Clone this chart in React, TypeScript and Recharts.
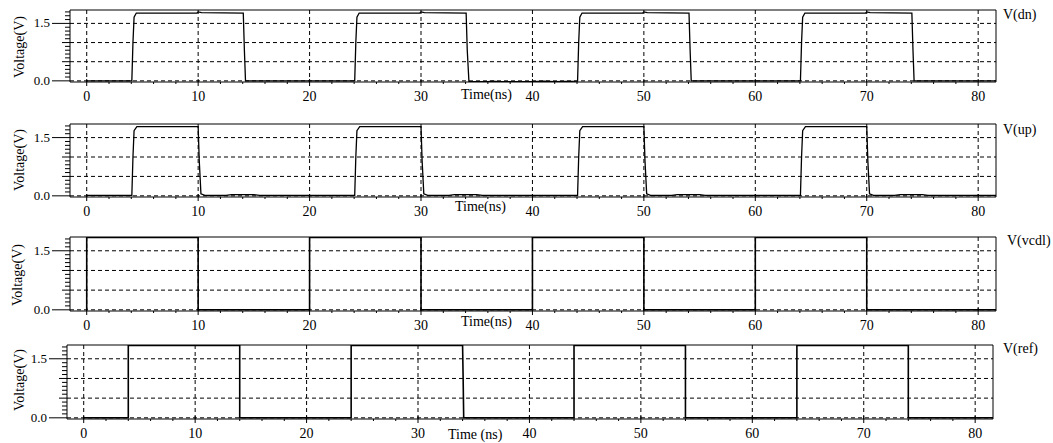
import React from "react"
import { LineChart, Line, XAxis, YAxis, CartesianGrid, ReferenceArea } from "recharts"

type Pt = { t: number; v: number }

const serif = '"Liberation Serif", "Times New Roman", Times, serif'

const timeTicks = [0, 10, 20, 30, 40, 50, 60, 70, 80]
const timeMinorTicks = [
  0, 2, 4, 6, 8, 10, 12, 14, 16, 18, 20, 22, 24, 26, 28, 30, 32, 34, 36, 38, 40,
  42, 44, 46, 48, 50, 52, 54, 56, 58, 60, 62, 64, 66, 68, 70, 72, 74, 76, 78, 80,
]
const voltTicks = [0, 0.1, 0.2, 0.3, 0.4, 0.5, 0.6, 0.7, 0.8, 0.9, 1.0, 1.1, 1.2, 1.3, 1.4, 1.5, 1.6, 1.7, 1.8]
const voltLabels = [0, 1.5]
const gridVolts = [0, 0.5, 1.0, 1.5]
const timeDomain: [number, number] = [-1.5, 81.6]
const voltDomain: [number, number] = [-0.03, 1.85]

// V(dn): 10 ns pulses starting at ~4.1 ns, every 20 ns
const dnWave: Pt[] = [
  { t: 0, v: 0 }, { t: 4.05, v: 0 }, { t: 4.15, v: 1.0 }, { t: 4.25, v: 1.66 }, { t: 4.45, v: 1.77 },
  { t: 9.9, v: 1.77 }, { t: 10.0, v: 1.8 }, { t: 10.3, v: 1.78 }, { t: 14.05, v: 1.77 }, { t: 14.15, v: 0.8 },
  { t: 14.25, v: 0 }, { t: 24.05, v: 0 }, { t: 24.15, v: 1.0 }, { t: 24.25, v: 1.66 }, { t: 24.45, v: 1.77 },
  { t: 29.9, v: 1.77 }, { t: 30.0, v: 1.8 }, { t: 30.3, v: 1.78 }, { t: 34.05, v: 1.77 }, { t: 34.15, v: 0.8 },
  { t: 34.3, v: -0.02 }, { t: 36.0, v: -0.02 }, { t: 36.4, v: -0.01 }, { t: 37.0, v: -0.02 }, { t: 40.0, v: -0.02 },
  { t: 41.0, v: -0.01 }, { t: 42.0, v: -0.02 }, { t: 44.05, v: -0.01 }, { t: 44.15, v: 1.0 }, { t: 44.25, v: 1.66 },
  { t: 44.45, v: 1.77 }, { t: 49.9, v: 1.77 }, { t: 50.0, v: 1.8 }, { t: 50.3, v: 1.78 }, { t: 54.05, v: 1.77 },
  { t: 54.15, v: 0.8 }, { t: 54.25, v: 0 }, { t: 64.05, v: 0 }, { t: 64.15, v: 1.0 }, { t: 64.25, v: 1.66 },
  { t: 64.45, v: 1.77 }, { t: 69.9, v: 1.77 }, { t: 70.0, v: 1.8 }, { t: 70.3, v: 1.78 }, { t: 74.05, v: 1.77 },
  { t: 74.15, v: 0.8 }, { t: 74.25, v: 0 }, { t: 81.6, v: 0 },
]

// V(up): pulses from ~4.2 ns to 10 ns, every 20 ns
const upWave: Pt[] = [
  { t: 0, v: 0.01 }, { t: 4.05, v: 0.01 }, { t: 4.15, v: 1.0 }, { t: 4.25, v: 1.68 }, { t: 4.5, v: 1.78 },
  { t: 10.0, v: 1.78 }, { t: 10.1, v: 0.9 }, { t: 10.25, v: 0.05 }, { t: 10.6, v: 0.01 }, { t: 12.5, v: 0.01 },
  { t: 13.0, v: 0.03 }, { t: 15.0, v: 0.03 }, { t: 15.5, v: 0.01 }, { t: 24.05, v: 0.01 }, { t: 24.15, v: 1.0 },
  { t: 24.25, v: 1.68 }, { t: 24.5, v: 1.78 }, { t: 30.0, v: 1.78 }, { t: 30.1, v: 0.9 }, { t: 30.25, v: 0.05 },
  { t: 30.6, v: 0.01 }, { t: 32.5, v: 0.01 }, { t: 33.0, v: 0.03 }, { t: 35.0, v: 0.03 }, { t: 35.5, v: 0.01 },
  { t: 44.05, v: 0.01 }, { t: 44.15, v: 1.0 }, { t: 44.25, v: 1.68 }, { t: 44.5, v: 1.78 }, { t: 50.0, v: 1.78 },
  { t: 50.1, v: 0.9 }, { t: 50.25, v: 0.05 }, { t: 50.6, v: 0.01 }, { t: 52.5, v: 0.01 }, { t: 53.0, v: 0.03 },
  { t: 55.0, v: 0.03 }, { t: 55.5, v: 0.01 }, { t: 64.05, v: 0.01 }, { t: 64.15, v: 1.0 }, { t: 64.25, v: 1.68 },
  { t: 64.5, v: 1.78 }, { t: 70.0, v: 1.78 }, { t: 70.1, v: 0.9 }, { t: 70.25, v: 0.05 }, { t: 70.6, v: 0.01 },
  { t: 72.5, v: 0.01 }, { t: 73.0, v: 0.03 }, { t: 75.0, v: 0.03 }, { t: 75.5, v: 0.01 }, { t: 81.6, v: 0.01 },
]

// V(vcdl): 20 ns clock, high for the first 10 ns of each period
const vcdlWave: Pt[] = [
  { t: 0, v: 0 }, { t: 0, v: 1.84 }, { t: 10, v: 1.84 }, { t: 10, v: 0 }, { t: 20, v: 0 }, { t: 20, v: 1.84 },
  { t: 30, v: 1.84 }, { t: 30, v: 0 }, { t: 40, v: 0 }, { t: 40, v: 1.84 }, { t: 50, v: 1.84 }, { t: 50, v: 0 },
  { t: 60, v: 0 }, { t: 60, v: 1.84 }, { t: 70, v: 1.84 }, { t: 70, v: 0 }, { t: 81.6, v: 0 },
]

// V(ref): 20 ns clock, high from 4 ns to 14 ns of each period
const refWave: Pt[] = [
  { t: 0, v: 0 }, { t: 4, v: 0 }, { t: 4, v: 1.84 }, { t: 14, v: 1.84 }, { t: 14, v: 0 }, { t: 24, v: 0 },
  { t: 24, v: 1.84 }, { t: 34, v: 1.84 }, { t: 34.05, v: 1.0 }, { t: 34.1, v: 0 }, { t: 44, v: 0 },
  { t: 44, v: 1.84 }, { t: 54, v: 1.84 }, { t: 54, v: 0 }, { t: 64, v: 0 }, { t: 64, v: 1.84 }, { t: 74, v: 1.84 },
  { t: 74, v: 0 }, { t: 81.6, v: 0 },
]

// ruler-style y ticks: long with label at 0.0 / 1.5, medium at 0.5 / 1.0, short otherwise
function VoltTick(props: any) {
  const { x, y, payload } = props
  const v = Math.round(payload.value * 10) / 10
  const labeled = voltLabels.includes(v)
  const mid = v === 0.5 || v === 1.0
  const len = labeled ? 18 : mid ? 8 : 5
  return (
    <g>
      <line x1={x - len} x2={x} y1={y} y2={y} stroke="#000" strokeWidth={1} />
      {labeled && (
        <text x={x - 20} y={y} dy={4} textAnchor="end" fontSize={13} style={{ fontFamily: serif }} fill="#000">
          {v.toFixed(1)}
        </text>
      )}
    </g>
  )
}

// time ticks: every 2 ns short marks under the frame, labelled crossing marks every 10 ns
function TimeTick(props: any) {
  const { x, y, payload } = props
  const t = payload.value
  const major = timeTicks.includes(t)
  return (
    <g>
      {major ? (
        <line x1={x} x2={x} y1={y - 3} y2={y + 4} stroke="#000" strokeWidth={1} />
      ) : (
        <line x1={x} x2={x} y1={y} y2={y + 2} stroke="#000" strokeWidth={1} />
      )}
      {major && (
        <text x={x} y={y + 19} textAnchor="middle" fontSize={14} style={{ fontFamily: serif }} fill="#000">
          {t}
        </text>
      )}
    </g>
  )
}

type PanelProps = {
  top: number
  plotTop: number
  plotBottom: number
  plotLeft: number
  plotRight: number
  data: Pt[]
  width: number
}

function Panel({ top, plotTop, plotBottom, plotLeft, plotRight, data, width }: PanelProps) {
  const height = plotBottom - top + 26
  return (
    <div style={{ position: "absolute", left: 0, top, width: 1053, height, fontFamily: serif }}>
      <LineChart
        width={1053}
        height={height}
        style={{ fontFamily: serif }}
        margin={{ top: plotTop - top, right: 1053 - plotRight, bottom: 0, left: plotLeft - 40 }}
      >
        <CartesianGrid
          stroke="#000"
          strokeDasharray="4 3"
          horizontalValues={gridVolts}
          verticalValues={timeTicks}
        />
        <XAxis
          type="number"
          dataKey="t"
          domain={timeDomain}
          ticks={timeMinorTicks}
          interval={0}
          allowDataOverflow
          height={26}
          axisLine={false}
          tickLine={false}
          tickSize={0}
          tickMargin={0}
          tick={(p: any) => <TimeTick {...p} />}
        />
        <YAxis
          type="number"
          domain={voltDomain}
          ticks={voltTicks}
          interval={0}
          allowDataOverflow
          width={40}
          axisLine={false}
          tickLine={false}
          tickSize={0}
          tickMargin={0}
          tick={(p: any) => <VoltTick {...p} />}
        />
        {/* plot frame */}
        <ReferenceArea
          x1={timeDomain[0]}
          x2={timeDomain[1]}
          y1={voltDomain[0]}
          y2={voltDomain[1]}
          fill="none"
          fillOpacity={0}
          stroke="#000"
          strokeWidth={1}
          ifOverflow="visible"
        />
        <Line
          data={data}
          dataKey="v"
          type="linear"
          stroke="#000"
          strokeWidth={width}
          dot={false}
          isAnimationActive={false}
        />
      </LineChart>
    </div>
  )
}

const textStyle: React.CSSProperties = {
  position: "absolute",
  fontFamily: serif,
  fontSize: 14,
  color: "#000",
  whiteSpace: "nowrap",
  lineHeight: 1,
}

function VoltLabel({ cx, cy }: { cx: number; cy: number }) {
  return (
    <div style={{ ...textStyle, left: cx, top: cy, transform: "translate(-50%, -50%) rotate(-90deg)" }}>
      Voltage(V)
    </div>
  )
}

function Tag({ x, cy, text }: { x: number; cy: number; text: string }) {
  return <div style={{ ...textStyle, left: x, top: cy, transform: "translateY(-50%)" }}>{text}</div>
}

export default function App() {
  return (
    <div style={{ position: "absolute", left: 0, top: 0, width: 1053, height: 443, background: "#fff", overflow: "hidden", fontFamily: serif }}>
      <Panel top={0} plotTop={10} plotBottom={82} plotLeft={70} plotRight={996} data={dnWave} width={1.3} />
      <Panel top={110} plotTop={124} plotBottom={197} plotLeft={70} plotRight={996} data={upWave} width={1.3} />
      <Panel top={220} plotTop={237} plotBottom={311} plotLeft={70} plotRight={996} data={vcdlWave} width={1.6} />
      <Panel top={330} plotTop={345} plotBottom={419} plotLeft={67} plotRight={993} data={refWave} width={1.6} />

      <VoltLabel cx={20} cy={47} />
      <VoltLabel cx={20} cy={160} />
      <VoltLabel cx={18} cy={275} />
      <VoltLabel cx={20} cy={380} />

      <Tag x={461} cy={95} text="Time(ns)" />
      <Tag x={455} cy={207} text="Time(ns)" />
      <Tag x={461} cy={322} text="Time(ns)" />
      <Tag x={448} cy={435} text="Time (ns)" />

      <Tag x={1003} cy={15} text="V(dn)" />
      <Tag x={1003} cy={130} text="V(up)" />
      <Tag x={1007} cy={241} text="V(vcdl)" />
      <Tag x={1003} cy={349} text="V(ref)" />
    </div>
  )
}
